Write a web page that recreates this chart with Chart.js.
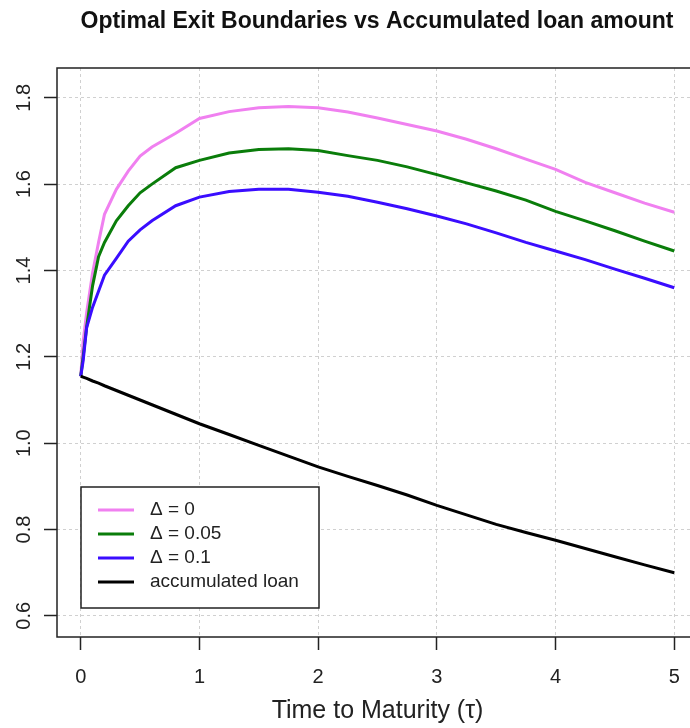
<!DOCTYPE html>
<html>
<head>
<meta charset="utf-8">
<script src="https://cdn.jsdelivr.net/npm/chart.js@4"></script>
<style>
  html, body { margin: 0; padding: 0; background: #fff; overflow: hidden; }
  #chart { display: block; }
</style>
</head>
<body>
<canvas id="chart" width="754" height="728"></canvas>
<script>
// time to maturity grid (tau)
const tau = [0, 0.02, 0.05, 0.1, 0.15, 0.2, 0.3, 0.4, 0.5, 0.6, 0.8, 1.0, 1.25, 1.5, 1.75,
             2.0, 2.25, 2.5, 2.75, 3.0, 3.25, 3.5, 3.75, 4.0, 4.25, 4.5, 4.75, 5.0];

// exit boundaries, one per Delta
const delta0 = [1.155, 1.235, 1.303, 1.395, 1.465, 1.530, 1.588, 1.630, 1.665, 1.686, 1.718, 1.752, 1.768, 1.777, 1.780,
                1.777, 1.767, 1.753, 1.738, 1.723, 1.704, 1.682, 1.658, 1.634, 1.604, 1.580, 1.556, 1.535];
const delta005 = [1.155, 1.200, 1.270, 1.365, 1.432, 1.465, 1.515, 1.550, 1.580, 1.600, 1.638, 1.655, 1.672, 1.680, 1.682,
                  1.678, 1.666, 1.655, 1.640, 1.622, 1.603, 1.584, 1.563, 1.537, 1.515, 1.492, 1.468, 1.445];
const delta01 = [1.155, 1.190, 1.268, 1.315, 1.352, 1.389, 1.428, 1.468, 1.494, 1.515, 1.550, 1.570, 1.583, 1.588, 1.588,
                 1.581, 1.572, 1.558, 1.543, 1.526, 1.508, 1.487, 1.465, 1.445, 1.425, 1.403, 1.382, 1.360];
const accLoan = [1.155, 1.153, 1.150, 1.144, 1.139, 1.133, 1.122, 1.111, 1.100, 1.089, 1.067, 1.045, 1.020, 0.995, 0.970,
                 0.945, 0.923, 0.902, 0.880, 0.856, 0.834, 0.812, 0.793, 0.775, 0.756, 0.737, 0.718, 0.700];

const seriesLabels = ['\u0394 = 0', '\u0394 = 0.05', '\u0394 = 0.1', 'accumulated loan'];
const xTickVals = [0, 1, 2, 3, 4, 5];
const yTickVals = [0.6, 0.8, 1.0, 1.2, 1.4, 1.6, 1.8];

const FONT = '"Liberation Sans", Arial, sans-serif';

function pts(ys) {
    return tau.map((t, i) => ({ x: t, y: ys[i] }));
}

// box round the plot region, like R's box()
const boxPlugin = {
    id: 'box',
    afterDraw(chart) {
        const a = chart.chartArea, ctx = chart.ctx;
        ctx.save();
        ctx.strokeStyle = '#222';
        ctx.lineWidth = 1.5;
        ctx.strokeRect(a.left, a.top, a.right - a.left, a.bottom - a.top);
        ctx.restore();
    }
};

// y tick labels turned 90 degrees (R las=0)
const yLabelPlugin = {
    id: 'yLabels',
    afterDraw(chart) {
        const y = chart.scales.y, ctx = chart.ctx;
        ctx.save();
        ctx.fillStyle = '#222';
        ctx.font = '20px ' + FONT;
        ctx.textAlign = 'center';
        ctx.textBaseline = 'middle';
        yTickVals.forEach(v => {
            ctx.save();
            ctx.translate(24, y.getPixelForValue(v));
            ctx.rotate(-Math.PI / 2);
            ctx.fillText(v.toFixed(1), 0, 0);
            ctx.restore();
        });
        ctx.restore();
    }
};

// legend box in the bottom left corner
const legendPlugin = {
    id: 'rLegend',
    afterDraw(chart) {
        const ctx = chart.ctx;
        const bx = 81, by = 487, bw = 238, bh = 121;
        ctx.save();
        ctx.fillStyle = '#fff';
        ctx.fillRect(bx, by, bw, bh);
        ctx.strokeStyle = '#222';
        ctx.lineWidth = 1.5;
        ctx.strokeRect(bx, by, bw, bh);
        ctx.font = '19px ' + FONT;
        ctx.textBaseline = 'middle';
        chart.data.datasets.forEach((ds, i) => {
            const yy = by + 23 + i * 24;
            ctx.strokeStyle = ds.borderColor;
            ctx.lineWidth = 3;
            ctx.beginPath();
            ctx.moveTo(98, yy);
            ctx.lineTo(134, yy);
            ctx.stroke();
            ctx.fillStyle = '#222';
            ctx.fillText(ds.label, 150, yy);
        });
        ctx.restore();
    }
};

const gridOpts = {
    color: '#d0d0d0',
    tickColor: '#222',
    tickBorderDash: [],
    tickLength: 13,
    tickWidth: 1.5
};

new Chart(document.getElementById('chart'), {
    type: 'line',
    data: {
        datasets: [
            { label: seriesLabels[0], data: pts(delta0), borderColor: '#f080f0', order: 4 },
            { label: seriesLabels[1], data: pts(delta005), borderColor: '#0a7d0a', order: 3 },
            { label: seriesLabels[2], data: pts(delta01), borderColor: '#3a0dff', order: 2 },
            { label: seriesLabels[3], data: pts(accLoan), borderColor: '#000000', order: 1 }
        ]
    },
    options: {
        responsive: false,
        animation: false,
        layout: { padding: 0 },
        elements: {
            line: { borderWidth: 3, tension: 0, fill: false },
            point: { radius: 0 }
        },
        plugins: {
            legend: { display: false },
            tooltip: { enabled: false },
            title: {
                display: true,
                text: 'Optimal Exit Boundaries vs Accumulated loan amount',
                color: '#111',
                font: { family: FONT, size: 23, weight: 'bold' },
                padding: { top: 8, bottom: 32.4 }
            }
        },
        scales: {
            x: {
                type: 'linear',
                min: -0.2,
                max: 5.2,
                afterBuildTicks: s => { s.ticks = xTickVals.map(v => ({ value: v })); },
                afterFit: s => { s.height = 91; },
                border: { display: false, dash: [3, 3] },
                grid: gridOpts,
                ticks: {
                    color: '#222',
                    font: { family: FONT, size: 20 },
                    padding: 15,
                    maxRotation: 0
                },
                title: {
                    display: true,
                    text: 'Time to Maturity (\u03c4)',
                    color: '#222',
                    font: { family: FONT, size: 25 },
                    padding: { top: 0, bottom: 2 }
                }
            },
            y: {
                type: 'linear',
                min: 0.551,
                max: 1.869,
                afterBuildTicks: s => { s.ticks = yTickVals.map(v => ({ value: v })); },
                afterFit: s => { s.width = 57; },
                border: { display: false, dash: [3, 3] },
                grid: gridOpts,
                ticks: { display: false }
            },
            // empty right-hand margin, keeps the plot region where R put it
            yRight: {
                type: 'linear',
                position: 'right',
                display: true,
                afterFit: s => { s.width = 56; },
                border: { display: false },
                grid: { display: false },
                ticks: { display: false }
            }
        }
    },
    plugins: [boxPlugin, yLabelPlugin, legendPlugin]
});
</script>
</body>
</html>
